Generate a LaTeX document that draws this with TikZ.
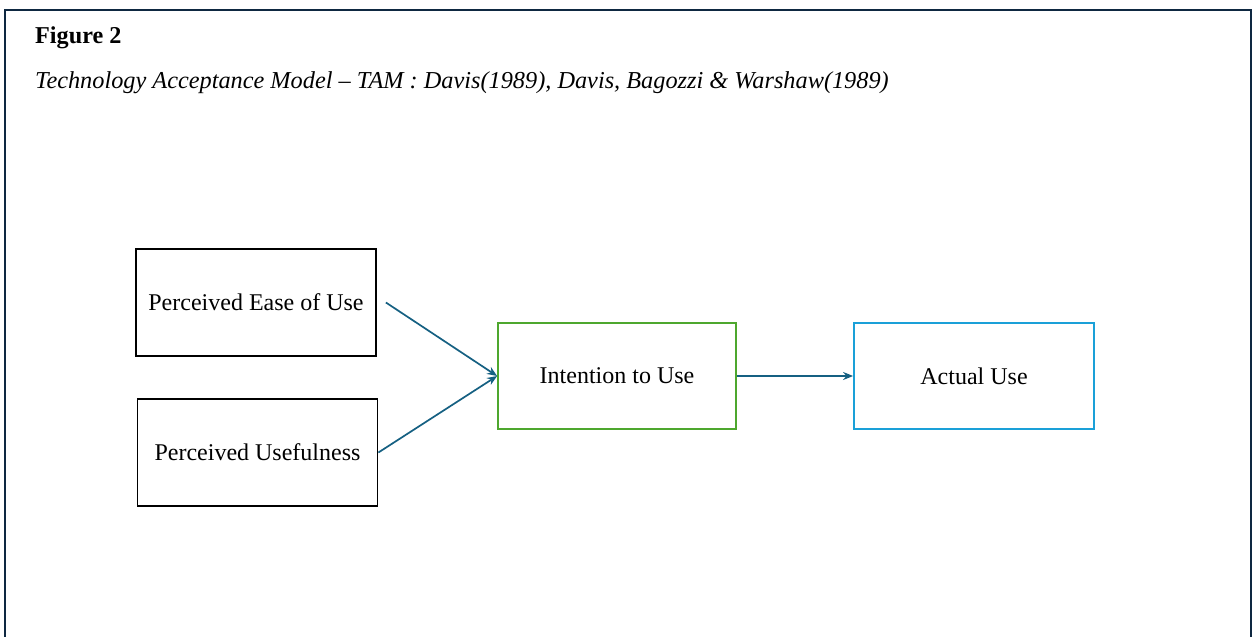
\documentclass[tikz,border=0pt]{standalone}
\usepackage{fontspec}
\setmainfont{Liberation Serif}
\usetikzlibrary{arrows.meta,calc}
\definecolor{frame}{HTML}{0E2841}
\definecolor{arrowc}{HTML}{156082}
\definecolor{boxgreen}{HTML}{4EA72E}
\definecolor{boxblue}{HTML}{1AA0D8}
\begin{document}
\begin{tikzpicture}[x=1pt,y=-1pt,
  every node/.style={font=\fontsize{24}{28}\selectfont},
  box/.style={draw=black,line width=1.8pt,minimum width=240pt,minimum height=107pt,inner sep=0pt},
  arr/.style={draw=arrowc,line width=1.7pt,-{Stealth[length=10pt,width=8pt]}}]
\useasboundingbox (0,0) rectangle (1258,637);
\fill[white] (0,0) rectangle (1258,637);
\draw[frame,line width=2.2pt] (5,660) -- (5,10) -- (1251,10) -- (1251,660);
\node[anchor=base west,inner sep=0pt,font=\fontsize{24.2}{28}\selectfont\bfseries] (fig) at (35,43) {Figure 2};
\node[anchor=base west,font=\fontsize{24.3}{28}\selectfont\itshape,inner sep=0pt] (cap) at (35,88) {Technology Acceptance Model -- TAM : Davis(1989), Davis, Bagozzi \& Warshaw(1989)};
\node[box] (peou) at (256,302.5) {Perceived Ease of Use};
\node[box] (pu) at (257.5,452.5) {Perceived Usefulness};
\node[box,draw=boxgreen,minimum width=238pt,minimum height=106pt] (int) at (617,376) {Intention to Use};
\node[box,draw=boxblue,minimum width=240pt,minimum height=106pt] (act) at (974,376) {Actual Use};
\coordinate (s1) at ($(peou.east)+(9,0)$);
\draw[arr] (s1) -- (int.west);
\draw[arr] (pu.east) -- (int.west);
\draw[arr] (int.east) -- (act.west);
\end{tikzpicture}
\end{document}
